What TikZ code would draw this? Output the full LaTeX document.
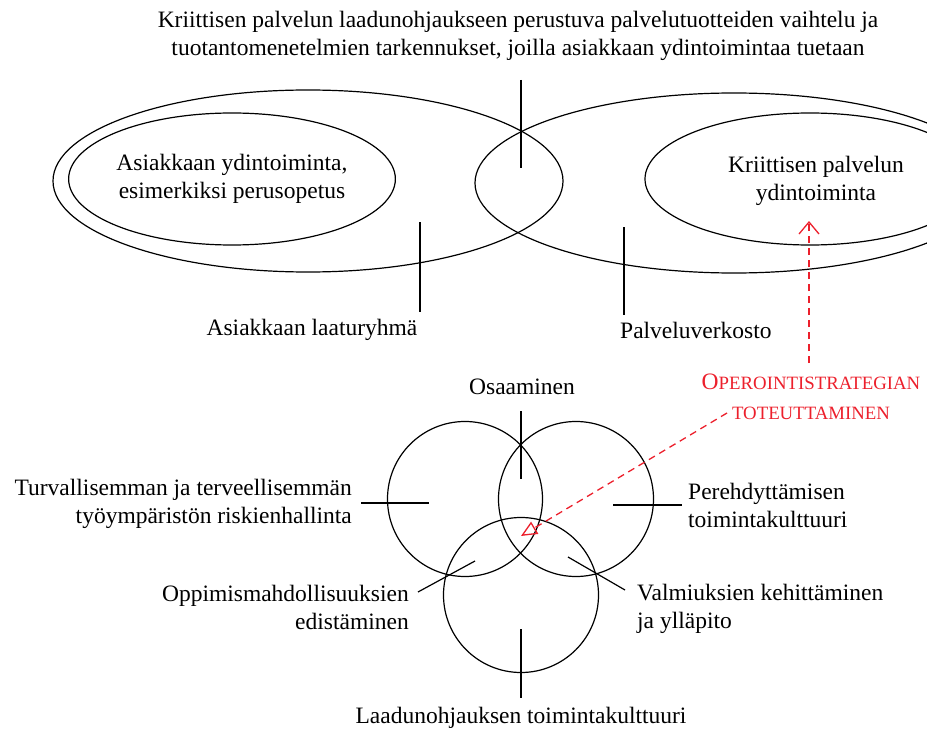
\documentclass[tikz,border=0pt]{standalone}
\usepackage{fontspec}
\setmainfont{Liberation Serif}
\usetikzlibrary{shapes.geometric,arrows.meta}
\definecolor{strategyred}{RGB}{236,32,44}
\newcommand{\bigsc}[1]{{\fontsize{23.5}{30}\selectfont #1}}
\newcommand{\smallsc}[1]{{\fontsize{18.8}{30}\selectfont #1}}
\begin{document}
\begin{tikzpicture}[x=1pt,y=-1pt,
  ring/.style={draw=black, line width=1.2pt, ellipse, inner sep=0pt},
  disc/.style={draw=black, line width=1.2pt, circle, inner sep=0pt, minimum size=155pt},
  tickline/.style={draw=black, line width=1.2pt},
  lbl/.style={font=\fontsize{23.5}{28}\selectfont, inner sep=0pt, align=center},
  redlbl/.style={font=\fontsize{18.8}{30}\selectfont, text=strategyred, inner sep=0pt, align=center},
  redlink/.style={draw=strategyred, line width=1.3pt, dash pattern=on 7pt off 5pt},
]
\useasboundingbox (0,0) rectangle (927,733);

% --- upper part: two overlapping networks ---
\node[ring, minimum width=510pt, minimum height=182pt] (clientgroup) at (308,181) {};
\node[ring, minimum width=518pt, minimum height=180pt] (servicenet) at (734,183) {};
\node[ring, lbl, minimum width=321pt, minimum height=132pt] (clientcore) at (232,179)
  {Asiakkaan ydintoiminta,\\esimerkiksi perusopetus};
\node[ring, minimum width=330pt, minimum height=132pt] (servicecore) at (810,179) {};
\node[lbl] (servicecoretext) at (816,181) {Kriittisen palvelun\\ydintoiminta};

\node[lbl] (toptext) at (518,36)
  {Kriittisen palvelun laadunohjaukseen perustuva palvelutuotteiden vaihtelu ja\\
   tuotantomenetelmien tarkennukset, joilla asiakkaan ydintoimintaa tuetaan};
\node[lbl] (clientgrouptext) at (312,330) {Asiakkaan laaturyhmä};
\node[lbl, anchor=west] (servicenettext) at (620,330) {Palveluverkosto};

\coordinate (topTickA) at (521,80);
\coordinate (topTickB) at (521,168);
\coordinate (leftTickA) at (420,222);
\coordinate (leftTickB) at (420,312);
\coordinate (rightTickA) at (624,227);
\coordinate (rightTickB) at (624,315);
\draw[tickline] (topTickA) -- (topTickB);
\draw[tickline] (leftTickA) -- (leftTickB);
\draw[tickline] (rightTickA) -- (rightTickB);

% --- lower part: three overlapping cultures ---
\node[disc] (safety) at (465,499) {};
\node[disc] (induction) at (576,499) {};
\node[disc] (quality) at (521,595) {};

\node[lbl] (skills) at (522,387) {Osaaminen};
\node[lbl, anchor=west, align=left] (inductiontext) at (688,505)
  {Perehdyttämisen\\toimintakulttuuri};
\node[lbl, anchor=east, align=right] (safetytext) at (352,504)
  {Turvallisemman ja terveellisemmän\\työympäristön riskienhallinta};
\node[lbl, anchor=east, align=right] (learningtext) at (409,607)
  {Oppimismahdollisuuksien\\edistäminen};
\node[lbl, anchor=west, align=left] (readinesstext) at (637,609)
  {Valmiuksien kehittäminen\\ja ylläpito};
\node[lbl] (qualitytext) at (521,718) {Laadunohjauksen toimintakulttuuri};

\coordinate (skillsTickA) at (521,411);
\coordinate (skillsTickB) at (521,479);
\coordinate (inductionTickA) at (613,505);
\coordinate (inductionTickB) at (682,505);
\coordinate (safetyTickA) at (361,503);
\coordinate (safetyTickB) at (429,503);
\coordinate (qualityTickA) at (521,629);
\coordinate (qualityTickB) at (521,698);
\coordinate (learningTickA) at (418,592);
\coordinate (learningTickB) at (475,561);
\coordinate (readinessTickA) at (568,557);
\coordinate (readinessTickB) at (625,590);
\draw[tickline] (skillsTickA) -- (skillsTickB);
\draw[tickline] (inductionTickA) -- (inductionTickB);
\draw[tickline] (safetyTickA) -- (safetyTickB);
\draw[tickline] (qualityTickA) -- (qualityTickB);
\draw[tickline] (learningTickA) -- (learningTickB);
\draw[tickline] (readinessTickA) -- (readinessTickB);

% --- strategy implementation ---
\node[redlbl] (strategy) at (811,397)
  {\bigsc{O}\smallsc{PEROINTISTRATEGIAN}\\\smallsc{TOTEUTTAMINEN}};
\coordinate (strategyUp) at (809,363);
\coordinate (servicecoreTip) at (809,221);
\coordinate (strategyDiag) at (727,413);
\coordinate (centreTip) at (521,536);
\draw[redlink, -{Straight Barb[length=12pt,width=20pt]}] (strategyUp) -- (servicecoreTip);
\draw[redlink, -{Triangle[open,length=16pt,width=14pt]}] (strategyDiag) -- (centreTip);
\end{tikzpicture}
\end{document}
